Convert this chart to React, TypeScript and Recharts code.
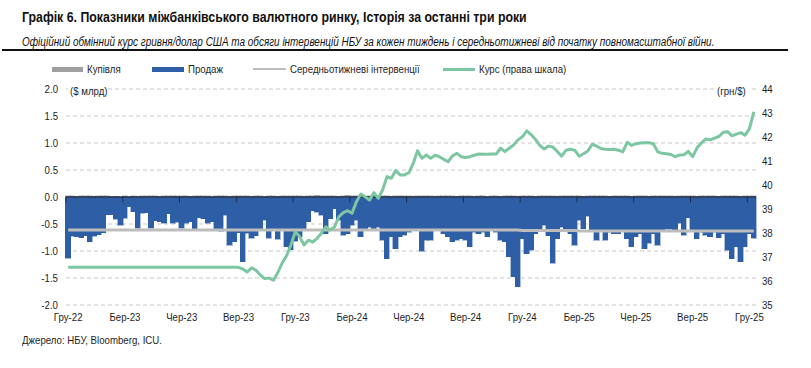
import { Bar, CartesianGrid, ComposedChart, Line, ReferenceLine, XAxis, YAxis } from "recharts";

// quarter labels on the x axis, one every 13 weeks
const quarterLabels = [
  "Гру-22", "Бер-23", "Чер-23", "Вер-23", "Гру-23", "Бер-24", "Чер-24",
  "Вер-24", "Гру-24", "Бер-25", "Чер-25", "Вер-25", "Гру-25",
];

// weekly NBU sales, $ bn (one row per quarter)
const sales = [
  -1.13, -0.73, -0.74, -0.75, -0.72, -0.83, -0.73, -0.7, -0.66, -0.33, -0.33, -0.41, -0.52,
  -0.39, -0.18, -0.27, -0.58, -0.3, -0.29, -0.58, -0.44, -0.46, -0.49, -0.31, -0.49, -0.47,
  -0.58, -0.49, -0.46, -0.6, -0.38, -0.4, -0.49, -0.46, -0.6, -0.63, -0.34, -0.89, -0.83,
  -0.66, -1.2, -0.67, -0.76, -0.72, -0.61, -0.43, -0.76, -0.61, -0.78, -0.61, -0.92, -0.98,
  -0.82, -0.74, -0.62, -0.46, -0.25, -0.28, -0.34, -0.68, -0.4, -0.22, -0.43, -0.71, -0.68,
  -0.52, -0.43, -0.74, -0.59, -0.56, -0.59, -0.56, -0.8, -1.14, -0.74, -0.96, -0.74, -0.71,
  -0.65, -0.62, -0.59, -1.0, -0.8, -0.8, -0.62, -0.59, -0.68, -0.74, -0.83, -0.8, -0.77,
  -0.8, -0.92, -0.65, -0.68, -0.65, -0.74, -0.62, -0.65, -0.8, -0.83, -1.11, -1.48, -1.66,
  -0.77, -1.05, -0.99, -0.68, -0.62, -0.52, -0.72, -1.23, -0.77, -0.56, -0.59, -0.68, -0.89,
  -0.43, -0.59, -0.36, -0.63, -0.8, -0.63, -0.8, -0.65, -0.68, -0.68, -0.63, -0.77, -0.92,
  -0.74, -0.68, -0.96, -0.86, -0.68, -0.89, -0.62, -0.6, -0.6, -0.62, -0.49, -0.71, -0.38,
  -0.63, -0.77, -0.65, -0.71, -0.74, -0.65, -0.75, -0.68, -0.99, -1.14, -0.92, -1.2, -0.92,
  -0.68, -0.76,
];

// weekly NBU purchases, $ bn (tiny)
const purchases = [
  0.02, 0.02, 0.01, 0.02, 0.02, 0.02, 0.01, 0.02, 0.02, 0.02, 0, 0.01, 0,
  0.02, 0, 0.02, 0.01, 0.02, 0.02, 0.02, 0.02, 0.01, 0.02, 0.02, 0.02, 0.02,
  0.02, 0.02, 0.01, 0.02, 0.02, 0.02, 0.02, 0, 0.02, 0.02, 0.02, 0.01, 0.02,
  0.02, 0.02, 0.02, 0.01, 0.02, 0.02, 0, 0.02, 0.02, 0.01, 0.02, 0.02, 0.02,
  0.02, 0.02, 0.01, 0.02, 0.02, 0.03, 0.02, 0.02, 0.02, 0.02, 0.01, 0.02, 0.03,
  0.02, 0.02, 0.02, 0.01, 0.02, 0.02, 0.02, 0.02, 0.02, 0.01, 0.02, 0.02, 0.02,
  0.02, 0.01, 0.02, 0.02, 0.02, 0.02, 0.01, 0.02, 0.02, 0.02, 0.02, 0.01, 0.02,
  0.02, 0.02, 0.01, 0.02, 0.02, 0, 0.02, 0.02, 0.01, 0.02, 0.02, 0.02, 0.01,
  0.02, 0.02, 0.02, 0.01, 0.02, 0.02, 0.02, 0.02, 0.01, 0.02, 0.02, 0.02, 0.02,
  0.02, 0.01, 0.02, 0.02, 0.02, 0.02, 0.02, 0.01, 0.02, 0.02, 0.02, 0.02, 0.01,
  0.02, 0.02, 0.02, 0.01, 0.02, 0.02, 0.02, 0.02, 0.02, 0.01, 0.02, 0.02, 0.02,
  0.02, 0.01, 0.02, 0.02, 0.02, 0.02, 0.01, 0.02, 0.02, 0.02, 0.02, 0.01, 0.02,
  0.02, 0.02,
];

// average weekly intervention since Feb-2022, by quarter
const avgByQuarter = [
  -0.61, -0.61, -0.61, -0.61, -0.61, -0.61, -0.61, -0.61, -0.62, -0.63, -0.63, -0.63, -0.63,
];

// official UAH/USD rate, weekly
const rate = [
  36.57, 36.57, 36.57, 36.57, 36.57, 36.57, 36.57, 36.57, 36.57, 36.57,
  36.57, 36.57, 36.57, 36.57, 36.57, 36.57, 36.57, 36.57, 36.57, 36.57,
  36.57, 36.57, 36.57, 36.57, 36.57, 36.57, 36.57, 36.57, 36.57, 36.57,
  36.57, 36.57, 36.57, 36.57, 36.57, 36.57, 36.57, 36.57, 36.57, 36.57,
  36.5, 36.38, 36.55, 36.45, 36.25, 36.1, 36.12, 36.03, 36.35, 36.75, 37.05, 37.5, 38.05,
  37.85, 37.5, 37.7, 37.62, 37.78, 37.99, 38.26, 38.12, 38.26, 38.68, 38.85, 38.93,
  38.82, 39.3, 39.62, 39.51, 39.37, 39.68, 39.45, 39.79, 40.35, 40.28, 40.6, 40.42, 40.42,
  40.51, 40.9, 41.43, 41.11, 41.25, 41.11, 41.24, 41.18, 41.07, 40.97, 41.21, 41.32, 41.18,
  41.15, 41.18, 41.24, 41.29, 41.28, 41.28, 41.29, 41.29, 41.53, 41.39, 41.53, 41.67, 41.88,
  42.01, 42.26, 42.1, 41.9, 41.65, 41.5, 41.62, 41.58, 41.4, 41.2, 41.45, 41.49, 41.45,
  41.2, 41.3, 41.42, 41.7, 41.62, 41.52, 41.49, 41.48, 41.49, 41.45, 41.38, 41.78, 41.65,
  41.72, 41.75, 41.76, 41.76, 41.72, 41.38, 41.32, 41.3, 41.27, 41.18, 41.25, 41.26, 41.4,
  41.18, 41.55, 41.75, 41.92, 41.88, 41.95, 42.02, 42.2, 42.22, 42.05, 42.12, 42.18, 42.08,
  42.35, 43.05,
];

const leftTicks = [-2, -1.5, -1, -0.5, 0, 0.5, 1, 1.5, 2];
const rightTicks = [35, 36, 37, 38, 39, 40, 41, 42, 43, 44];

const data = sales.map((sale, i) => ({
  week: i,
  sale,
  buy: purchases[i],
  avg: avgByQuarter[Math.min(Math.floor(i / 13), avgByQuarter.length - 1)],
  rate: rate[i],
}));
const quarterWeeks = quarterLabels.map((_, i) => i * 13);

const FONT = "'Liberation Sans', Arial, sans-serif";
const NARROW = 0.84; // the source uses a condensed face
const TEXT = "#1e1e1e";
const BLUE = "#2e5fa6";
const GRAY_BAR = "#a0a0a0";
const AVG = "#bdbdbd";
const GREEN = "#7cc6a1";

function NarrowText({ x, y, anchor, children }: { x: number; y: number; anchor: "start" | "middle" | "end"; children: React.ReactNode }) {
  return (
    <g transform={`translate(${x},${y}) scale(${NARROW},1)`}>
      <text x={0} y={0} textAnchor={anchor} fontSize={11.5} fill={TEXT} fontFamily={FONT}>
        {children}
      </text>
    </g>
  );
}

function LeftTick({ x, y, payload }: any) {
  return (
    <NarrowText x={x - 8} y={y + 4} anchor="end">
      {payload.value.toFixed(1)}
    </NarrowText>
  );
}

function RightTick({ x, y, payload }: any) {
  return (
    <NarrowText x={x + 6} y={y + 4} anchor="start">
      {payload.value}
    </NarrowText>
  );
}

function BottomTick({ x, y, payload }: any) {
  return (
    <NarrowText x={x} y={y + 16} anchor="middle">
      {quarterLabels[Math.round(payload.value / 13)]}
    </NarrowText>
  );
}

// bars widened a touch so neighbouring weeks touch, as in the source
function SolidBar(props: any) {
  const { x, y, width, height, fill } = props;
  if (!height) return null;
  const top = height < 0 ? y + height : y;
  return (
    <rect
      x={x - 0.6}
      y={top}
      width={Math.abs(width) + 1.2}
      height={Math.abs(height)}
      fill={fill}
      stroke={fill}
      strokeWidth={0.4}
      shapeRendering="crispEdges"
    />
  );
}

function Narrow({ children, size = 11.5, style }: { children: React.ReactNode; size?: number; style?: React.CSSProperties }) {
  return (
    <span
      style={{
        display: "inline-block",
        fontSize: size,
        color: TEXT,
        whiteSpace: "nowrap",
        transform: `scaleX(${NARROW})`,
        transformOrigin: "left center",
        ...style,
      }}
    >
      {children}
    </span>
  );
}

function LegendItem({ left, label, swatch }: { left: number; label: string; swatch: React.ReactNode }) {
  return (
    <div style={{ position: "absolute", left, top: 61, height: 16, display: "flex", alignItems: "center" }}>
      {swatch}
      <Narrow style={{ marginLeft: 4 }}>{label}</Narrow>
    </div>
  );
}

export default function App() {
  return (
    <div
      style={{
        position: "absolute",
        left: 0,
        top: 0,
        width: 811,
        height: 368,
        background: "#fff",
        fontFamily: FONT,
        overflow: "hidden",
      }}
    >
      <div style={{ position: "absolute", left: 22, top: 8 }}>
        <span
          style={{
            display: "inline-block",
            fontSize: 14.5,
            fontWeight: 700,
            color: "#111",
            whiteSpace: "nowrap",
            transform: "scaleX(0.85)",
            transformOrigin: "left center",
          }}
        >
          Графік 6. Показники міжбанківського валютного ринку, Історія за останні три роки
        </span>
      </div>
      <div style={{ position: "absolute", left: 22, top: 32 }}>
        <span
          style={{
            display: "inline-block",
            fontSize: 12.5,
            fontStyle: "italic",
            color: "#111",
            whiteSpace: "nowrap",
            transform: "scaleX(0.795)",
            transformOrigin: "left center",
          }}
        >
          Офіційний обмінний курс гривня/долар США та обсяги інтервенцій НБУ за кожен тиждень і середньотижневі від початку повномасштабної війни.
        </span>
      </div>
      <div style={{ position: "absolute", left: 2, top: 49, width: 786, height: 1.5, background: "#111" }} />

      <LegendItem left={52} label="Купівля" swatch={<div style={{ width: 31, height: 5, background: GRAY_BAR }} />} />
      <LegendItem left={152} label="Продаж" swatch={<div style={{ width: 32, height: 5, background: BLUE }} />} />
      <LegendItem left={253} label="Середньотижневі інтервенції" swatch={<div style={{ width: 33, height: 2, background: AVG }} />} />
      <LegendItem left={443} label="Курс (права шкала)" swatch={<div style={{ width: 32, height: 3, background: GREEN }} />} />

      <div style={{ position: "absolute", left: 0, top: 0 }}>
        <ComposedChart
          width={811}
          height={368}
          data={data}
          margin={{ top: 89, right: 0, bottom: 0, left: 0 }}
          barCategoryGap={0}
          barGap={0}
          stackOffset="sign"
        >
          <CartesianGrid yAxisId="left" vertical={false} stroke="#c8c8c8" strokeDasharray="4 3" />
          <XAxis
            dataKey="week"
            type="category"
            ticks={quarterWeeks}
            interval={0}
            axisLine={false}
            tickLine={false}
            tickSize={0}
            tickMargin={0}
            height={63}
            tick={<BottomTick />}
          />
          <YAxis
            yAxisId="left"
            orientation="left"
            domain={[-2, 2]}
            ticks={leftTicks}
            width={66}
            axisLine={false}
            tickLine={false}
            tickSize={0}
            tickMargin={0}
            tick={<LeftTick />}
          />
          <YAxis
            yAxisId="right"
            orientation="right"
            domain={[35, 44]}
            ticks={rightTicks}
            width={55}
            axisLine={false}
            tickLine={false}
            tickSize={0}
            tickMargin={0}
            tick={<RightTick />}
          />
          <Bar yAxisId="left" dataKey="sale" stackId="s" fill={BLUE} shape={SolidBar} isAnimationActive={false} />
          <Bar yAxisId="left" dataKey="buy" stackId="s" fill={GRAY_BAR} shape={SolidBar} isAnimationActive={false} />
          <ReferenceLine yAxisId="left" y={0} stroke="#1d2b48" strokeWidth={1.5} />
          {quarterWeeks.map((w) => (
            <ReferenceLine
              key={w}
              yAxisId="left"
              position="start"
              segment={[
                { x: w, y: 0 },
                { x: w, y: -0.1 },
              ]}
              stroke="#1d2b48"
              strokeWidth={1}
            />
          ))}
          <Line
            yAxisId="left"
            dataKey="avg"
            type="linear"
            stroke={AVG}
            strokeWidth={3}
            dot={false}
            isAnimationActive={false}
          />
          <Line
            yAxisId="right"
            dataKey="rate"
            type="linear"
            stroke={GREEN}
            strokeWidth={3}
            strokeLinejoin="round"
            dot={false}
            isAnimationActive={false}
          />
        </ComposedChart>
      </div>

      <div style={{ position: "absolute", left: 68, top: 81, background: "#fff", width: 38, height: 15 }}>
        <Narrow style={{ marginLeft: 2 }}>($ млрд)</Narrow>
      </div>
      <div style={{ position: "absolute", left: 714, top: 81, background: "#fff", width: 36, height: 15 }}>
        <Narrow style={{ marginLeft: 3 }}>(грн/$)</Narrow>
      </div>

      <div style={{ position: "absolute", left: 22, top: 330 }}>
        <Narrow>Джерело: НБУ, Bloomberg, ICU.</Narrow>
      </div>
    </div>
  );
}
